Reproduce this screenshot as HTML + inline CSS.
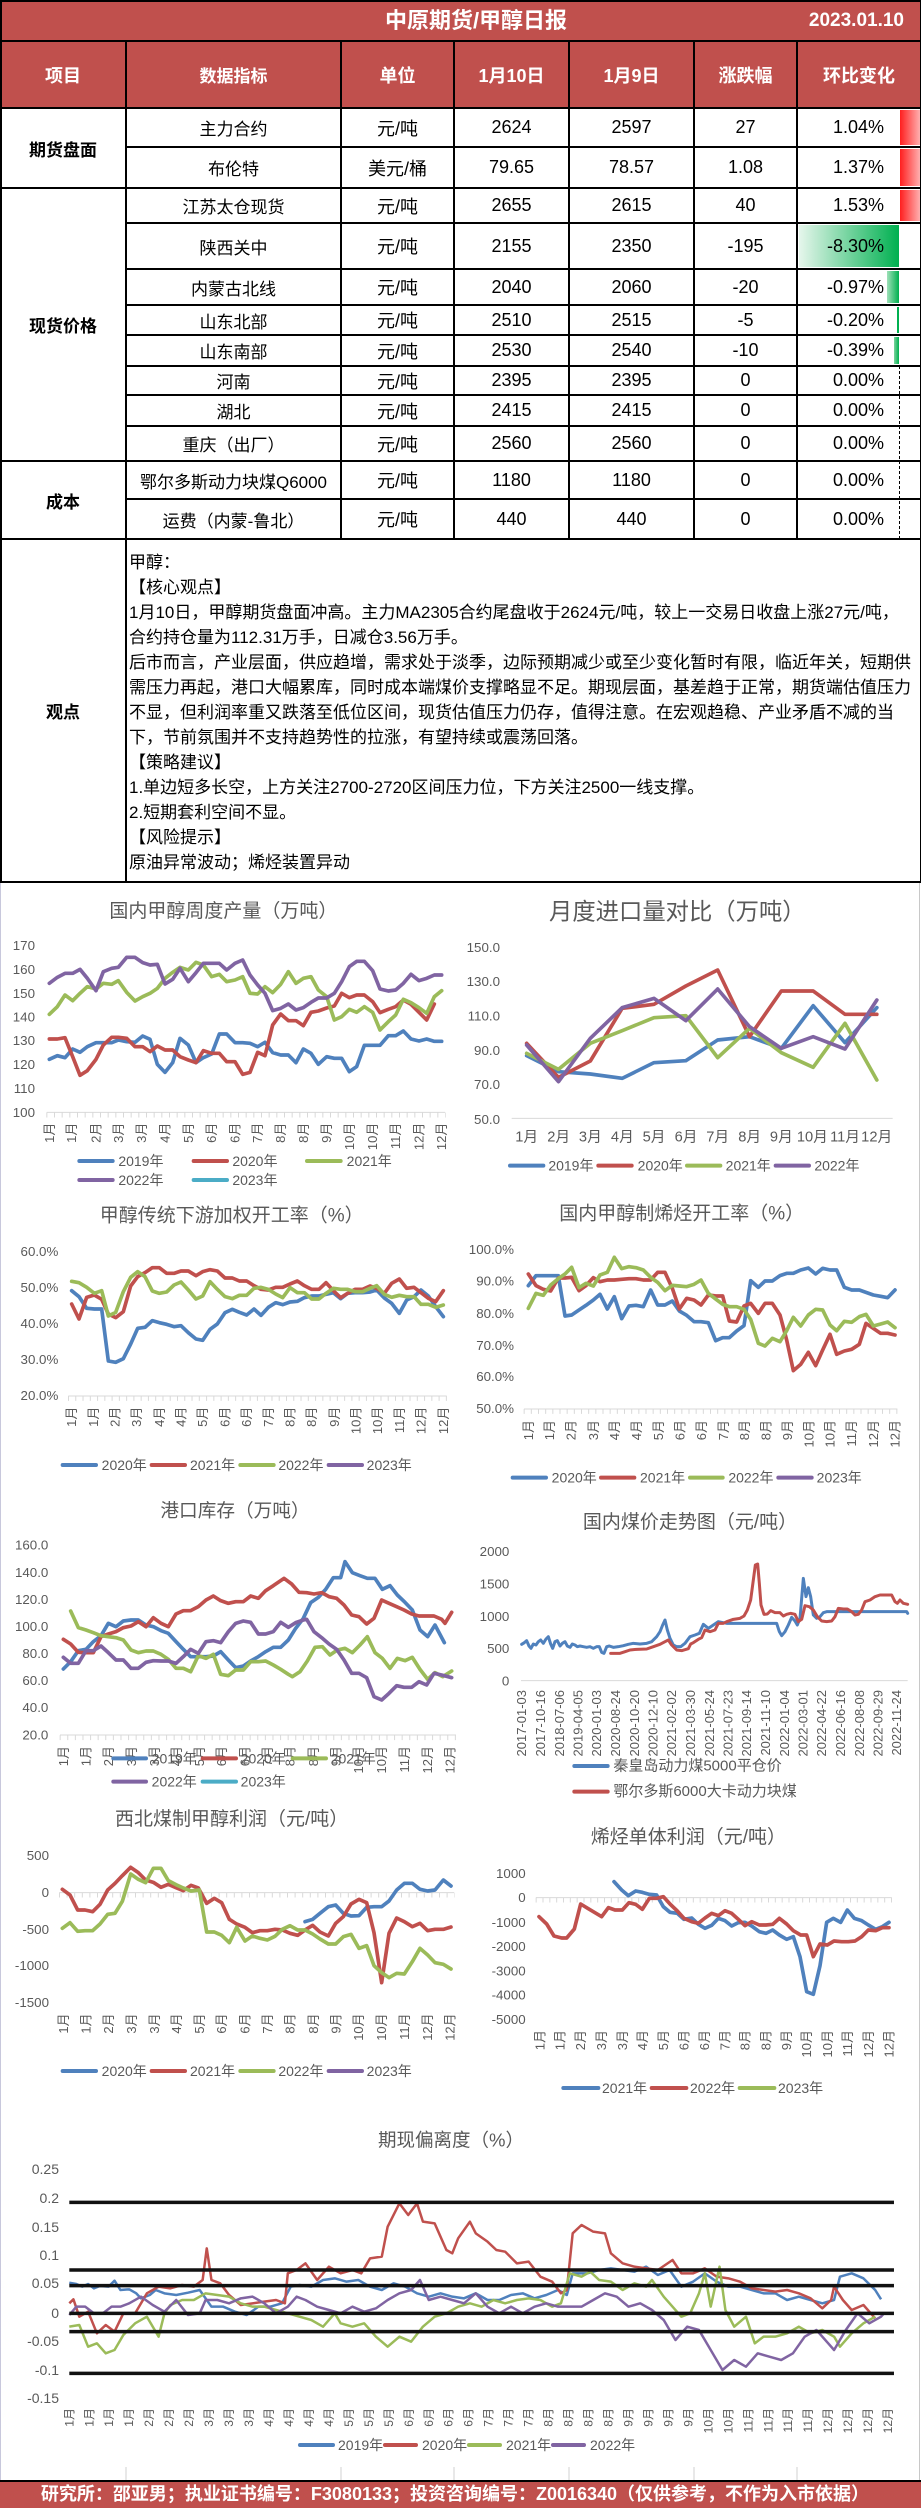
<!DOCTYPE html>
<html><head><meta charset="utf-8">
<style>
body{margin:0;width:921px;height:2508px;position:relative;background:#fff;font-family:"Liberation Sans","Noto Sans CJK SC",sans-serif;overflow:hidden;color:#000}
.a{position:absolute}
.rw{position:absolute;left:0;width:921px}
.rw>div{position:absolute;top:0;bottom:0;display:flex;align-items:center;justify-content:center;white-space:nowrap;font-size:18px}
.c0{left:0;width:126px}.c1{left:126px;width:215px;font-size:17px!important}.c2{left:341px;width:113px}.c3{left:454px;width:115px}.c4{left:569px;width:125px}.c5{left:694px;width:103px}.c6{left:797px;width:87px;justify-content:flex-end!important}.c7{left:797px;width:124px}
.hd>div{color:#fff;font-weight:bold;font-size:18px}
.lab{position:absolute;left:0;width:126px;display:flex;align-items:center;justify-content:center;font-weight:bold;font-size:17px}
.h{position:absolute;height:2px;background:#000}
.v{position:absolute;width:1.5px;background:#000}
.tx{position:absolute;left:129px;font-size:17px;line-height:25px;white-space:nowrap}
svg text{font-family:"Liberation Sans","Noto Sans CJK SC",sans-serif;fill:#595959}
.tt{text-anchor:middle;dominant-baseline:central}
.yl{text-anchor:end;dominant-baseline:central;font-size:40px}
.xl{text-anchor:end;dominant-baseline:central;font-size:39px}
.lg{dominant-baseline:central;font-size:42px}
.s{fill:none;stroke-width:11;stroke-linejoin:round;stroke-linecap:round}
.b{stroke:#4F81BD}.r{stroke:#C0504D}.g{stroke:#9BBB59}.p{stroke:#8064A2}.c{stroke:#4BACC6}
.ax{stroke:#D9D9D9;stroke-width:3}
.tk{stroke:#D9D9D9;stroke-width:15}
.ll{stroke-width:12;stroke-linecap:round}
</style></head><body>

<!-- Title bar -->
<div class="a" style="left:0;top:0;width:921px;height:41px;background:#C0504D"></div>
<div class="a" style="left:0;top:0;width:952px;height:41px;line-height:41px;text-align:center;color:#fff;font-weight:bold;font-size:22px">中原期货/甲醇日报</div>
<div class="a" style="right:17px;top:0;height:41px;line-height:41px;color:#fff;font-weight:bold;font-size:19px">2023.01.10</div>

<!-- Header row -->
<div class="rw hd" style="top:41px;height:67px;background:#C0504D">
<div class="c0">项目</div><div class="c1">数据指标</div><div class="c2">单位</div><div class="c3">1月10日</div><div class="c4">1月9日</div><div class="c5">涨跌幅</div><div class="c7">环比变化</div>
</div>

<!-- data bars -->
<div class="a" style="left:900px;top:110px;width:20px;height:35px;background:linear-gradient(90deg,#ff1f1f,#ffb0b0)"></div>
<div class="a" style="left:900px;top:149px;width:20px;height:37px;background:linear-gradient(90deg,#ff1f1f,#ffb0b0)"></div>
<div class="a" style="left:900px;top:190px;width:20px;height:31px;background:linear-gradient(90deg,#ff1f1f,#ffb0b0)"></div>
<div class="a" style="left:799px;top:225px;width:100px;height:42px;background:linear-gradient(90deg,#e6f6ec,#00B050)"></div>
<div class="a" style="left:887px;top:271px;width:12px;height:32px;background:linear-gradient(90deg,#9fe0b8,#00B050)"></div>
<div class="a" style="left:897px;top:307px;width:2px;height:26px;background:#00B050"></div>
<div class="a" style="left:894px;top:337px;width:5px;height:27px;background:linear-gradient(90deg,#7ad39d,#00B050)"></div>
<div class="a" style="left:899px;top:366px;width:0;height:173px;border-left:1px dashed #000"></div>

<div class="rw" style="top:108px;height:39px"><div class="c1">主力合约</div><div class="c2">元/吨</div><div class="c3">2624</div><div class="c4">2597</div><div class="c5">27</div><div class="c6">1.04%</div></div>
<div class="rw" style="top:147px;height:41px"><div class="c1">布伦特</div><div class="c2">美元/桶</div><div class="c3">79.65</div><div class="c4">78.57</div><div class="c5">1.08</div><div class="c6">1.37%</div></div>
<div class="rw" style="top:188px;height:35px"><div class="c1">江苏太仓现货</div><div class="c2">元/吨</div><div class="c3">2655</div><div class="c4">2615</div><div class="c5">40</div><div class="c6">1.53%</div></div>
<div class="rw" style="top:223px;height:46px"><div class="c1">陕西关中</div><div class="c2">元/吨</div><div class="c3">2155</div><div class="c4">2350</div><div class="c5">-195</div><div class="c6">-8.30%</div></div>
<div class="rw" style="top:269px;height:36px"><div class="c1">内蒙古北线</div><div class="c2">元/吨</div><div class="c3">2040</div><div class="c4">2060</div><div class="c5">-20</div><div class="c6">-0.97%</div></div>
<div class="rw" style="top:305px;height:30px"><div class="c1">山东北部</div><div class="c2">元/吨</div><div class="c3">2510</div><div class="c4">2515</div><div class="c5">-5</div><div class="c6">-0.20%</div></div>
<div class="rw" style="top:335px;height:31px"><div class="c1">山东南部</div><div class="c2">元/吨</div><div class="c3">2530</div><div class="c4">2540</div><div class="c5">-10</div><div class="c6">-0.39%</div></div>
<div class="rw" style="top:366px;height:29px"><div class="c1">河南</div><div class="c2">元/吨</div><div class="c3">2395</div><div class="c4">2395</div><div class="c5">0</div><div class="c6">0.00%</div></div>
<div class="rw" style="top:395px;height:31px"><div class="c1">湖北</div><div class="c2">元/吨</div><div class="c3">2415</div><div class="c4">2415</div><div class="c5">0</div><div class="c6">0.00%</div></div>
<div class="rw" style="top:426px;height:35px"><div class="c1">重庆（出厂）</div><div class="c2">元/吨</div><div class="c3">2560</div><div class="c4">2560</div><div class="c5">0</div><div class="c6">0.00%</div></div>
<div class="rw" style="top:461px;height:38px"><div class="c1">鄂尔多斯动力块煤Q6000</div><div class="c2">元/吨</div><div class="c3">1180</div><div class="c4">1180</div><div class="c5">0</div><div class="c6">0.00%</div></div>
<div class="rw" style="top:499px;height:40px"><div class="c1">运费（内蒙-鲁北）</div><div class="c2">元/吨</div><div class="c3">440</div><div class="c4">440</div><div class="c5">0</div><div class="c6">0.00%</div></div>

<div class="lab" style="top:108px;height:80px">期货盘面</div>
<div class="lab" style="top:188px;height:273px">现货价格</div>
<div class="lab" style="top:461px;height:78px">成本</div>
<div class="lab" style="top:539px;height:343px">观点</div>

<!-- 观点 text -->
<div class="tx" style="top:550px">甲醇：</div>
<div class="tx" style="top:575px">【核心观点】</div>
<div class="tx" style="top:600px">1月10日，甲醇期货盘面冲高。主力MA2305合约尾盘收于2624元/吨，较上一交易日收盘上涨27元/吨，</div>
<div class="tx" style="top:625px">合约持仓量为112.31万手，日减仓3.56万手。</div>
<div class="tx" style="top:650px">后市而言，产业层面，供应趋增，需求处于淡季，边际预期减少或至少变化暂时有限，临近年关，短期供</div>
<div class="tx" style="top:675px">需压力再起，港口大幅累库，同时成本端煤价支撑略显不足。期现层面，基差趋于正常，期货端估值压力</div>
<div class="tx" style="top:700px">不显，但利润率重又跌落至低位区间，现货估值压力仍存，值得注意。在宏观趋稳、产业矛盾不减的当</div>
<div class="tx" style="top:725px">下，节前氛围并不支持趋势性的拉涨，有望持续或震荡回落。</div>
<div class="tx" style="top:750px">【策略建议】</div>
<div class="tx" style="top:775px">1.单边短多长空，上方关注2700-2720区间压力位，下方关注2500一线支撑。</div>
<div class="tx" style="top:800px">2.短期套利空间不显。</div>
<div class="tx" style="top:825px">【风险提示】</div>
<div class="tx" style="top:850px">原油异常波动；烯烃装置异动</div>

<!-- table lines -->
<div class="h" style="left:0;top:0;width:921px"></div>
<div class="h" style="left:0;top:40px;width:921px"></div>
<div class="h" style="left:0;top:107px;width:921px"></div>
<div class="h" style="left:126px;top:146px;width:795px"></div>
<div class="h" style="left:0;top:187px;width:921px"></div>
<div class="h" style="left:126px;top:222px;width:795px"></div>
<div class="h" style="left:126px;top:268px;width:795px"></div>
<div class="h" style="left:126px;top:304px;width:795px"></div>
<div class="h" style="left:126px;top:334px;width:795px"></div>
<div class="h" style="left:126px;top:365px;width:795px"></div>
<div class="h" style="left:126px;top:394px;width:795px"></div>
<div class="h" style="left:126px;top:425px;width:795px"></div>
<div class="h" style="left:0;top:460px;width:921px"></div>
<div class="h" style="left:126px;top:498px;width:795px"></div>
<div class="h" style="left:0;top:538px;width:921px"></div>
<div class="h" style="left:0;top:881px;width:921px"></div>
<div class="v" style="left:0;top:0;height:883px"></div>
<div class="v" style="left:919.5px;top:0;height:883px"></div>
<div class="v" style="left:125px;top:41px;height:841px"></div>
<div class="v" style="left:340px;top:41px;height:498px"></div>
<div class="v" style="left:453px;top:41px;height:498px"></div>
<div class="v" style="left:568px;top:41px;height:498px"></div>
<div class="v" style="left:693px;top:41px;height:498px"></div>
<div class="v" style="left:796px;top:41px;height:498px"></div>

<!-- chart area borders -->
<div class="a" style="left:0;top:883px;width:1px;height:1597px;background:#c8c8dc"></div>
<div class="a" style="left:919px;top:883px;width:1px;height:1597px;background:#c8c8c8"></div>

<svg class="a" style="left:0;top:880px" width="921" height="1220" viewBox="0 0 2763 3660">
<!-- Chart 1 -->
<g>
<text class="tt" x="670" y="95" font-size="57">国内甲醇周度产量（万吨）</text>
<text class="yl" x="105" y="197">170</text><text class="yl" x="105" y="268">160</text><text class="yl" x="105" y="340">150</text><text class="yl" x="105" y="411">140</text><text class="yl" x="105" y="482">130</text><text class="yl" x="105" y="554">120</text><text class="yl" x="105" y="625">110</text><text class="yl" x="105" y="697">100</text>
<line class="ax" x1="140" y1="697" x2="1335" y2="697"/>
<line class="tk" x1="139" y1="705" x2="1337" y2="705" stroke-dasharray="3 20"/>
<text class="xl" transform="translate(148 728) rotate(-90)">1月</text><text class="xl" transform="translate(215 728) rotate(-90)">1月</text><text class="xl" transform="translate(288 728) rotate(-90)">2月</text><text class="xl" transform="translate(355 728) rotate(-90)">3月</text><text class="xl" transform="translate(425 728) rotate(-90)">3月</text><text class="xl" transform="translate(495 728) rotate(-90)">4月</text><text class="xl" transform="translate(565 728) rotate(-90)">5月</text><text class="xl" transform="translate(635 728) rotate(-90)">6月</text><text class="xl" transform="translate(705 728) rotate(-90)">6月</text><text class="xl" transform="translate(773 728) rotate(-90)">7月</text><text class="xl" transform="translate(842 728) rotate(-90)">8月</text><text class="xl" transform="translate(910 728) rotate(-90)">8月</text><text class="xl" transform="translate(980 728) rotate(-90)">9月</text><text class="xl" transform="translate(1048 728) rotate(-90)">10月</text><text class="xl" transform="translate(1118 728) rotate(-90)">10月</text><text class="xl" transform="translate(1187 728) rotate(-90)">11月</text><text class="xl" transform="translate(1257 728) rotate(-90)">12月</text><text class="xl" transform="translate(1325 728) rotate(-90)">12月</text>
<polyline class="s b" points="148,538 172,527 195,533 218,507 240,517 262,500 288,488 310,488 335,488 355,480 380,485 405,487 428,468 450,478 472,553 495,577 518,548 540,475 565,495 588,548 610,533 635,522 658,462 680,462 705,488 728,488 750,490 773,500 795,487 818,518 842,525 865,525 888,548 910,507 933,520 955,553 980,530 1003,535 1025,535 1048,575 1070,560 1093,496 1118,496 1140,496 1165,467 1187,467 1210,453 1233,477 1257,483 1280,477 1303,484 1325,484"/>
<polyline class="s r" points="148,477 172,477 195,473 218,530 240,586 262,572 288,538 310,495 335,472 355,472 380,475 405,500 428,500 450,515 472,498 495,510 518,510 540,530 565,540 588,548 610,512 635,520 658,520 680,545 705,545 728,583 750,577 773,517 795,527 818,435 842,402 865,422 888,422 910,437 933,397 955,393 980,384 1003,378 1025,340 1048,353 1070,345 1093,345 1118,365 1140,398 1165,388 1187,380 1210,360 1233,373 1257,397 1280,420 1303,372"/>
<polyline class="s g" points="148,403 172,380 195,345 218,362 240,340 262,320 288,327 310,310 335,313 355,302 380,337 405,363 428,350 450,340 472,325 495,295 518,277 540,262 565,270 588,247 610,255 635,290 658,283 680,305 705,300 728,290 750,340 773,342 795,320 818,338 842,313 865,275 888,310 910,295 933,290 955,330 980,350 1003,420 1025,410 1048,388 1070,397 1093,380 1118,397 1140,450 1165,425 1187,405 1210,358 1233,368 1257,383 1280,400 1303,350 1325,332"/>
<polyline class="s p" points="148,310 172,292 195,280 218,280 240,268 262,295 288,332 310,275 335,265 355,262 380,232 405,232 428,248 450,255 472,253 495,312 518,298 540,265 565,305 588,278 610,250 635,250 658,250 680,270 705,250 728,240 750,285 773,315 795,340 818,392 842,385 865,372 888,390 910,383 933,367 955,354 980,354 1003,340 1025,305 1048,260 1070,244 1093,244 1118,272 1140,327 1165,333 1187,330 1210,310 1233,283 1257,302 1280,295 1303,285 1325,285"/>
<line class="ll b" x1="238" y1="843" x2="338" y2="843"/><text class="lg" x="355" y="843">2019年</text>
<line class="ll r" x1="581" y1="843" x2="681" y2="843"/><text class="lg" x="697" y="843">2020年</text>
<line class="ll g" x1="921" y1="843" x2="1022" y2="843"/><text class="lg" x="1040" y="843">2021年</text>
<line class="ll p" x1="238" y1="900" x2="338" y2="900"/><text class="lg" x="355" y="900">2022年</text>
<line class="ll c" x1="581" y1="900" x2="681" y2="900"/><text class="lg" x="697" y="900">2023年</text>
</g>

<!-- Chart 2 -->
<g transform="translate(1380 0)">
<text class="tt" x="652" y="95" font-size="70">月度进口量对比（万吨）</text>
<text class="yl" x="120" y="203">150.0</text><text class="yl" x="120" y="305">130.0</text><text class="yl" x="120" y="408">110.0</text><text class="yl" x="120" y="512">90.0</text><text class="yl" x="120" y="613">70.0</text><text class="yl" x="120" y="718">50.0</text>
<line class="ax" x1="155" y1="715" x2="1298" y2="715"/>
<g class="tt" font-size="44"><text x="200" y="772">1月</text><text x="296" y="772">2月</text><text x="391" y="772">3月</text><text x="487" y="772">4月</text><text x="582" y="772">5月</text><text x="678" y="772">6月</text><text x="773" y="772">7月</text><text x="869" y="772">8月</text><text x="964" y="772">9月</text><text x="1057" y="772">10月</text><text x="1155" y="772">11月</text><text x="1250" y="772">12月</text></g>
<polyline class="s b" points="200,527 295.5,575 391,582 486.5,595 582,548 677.5,542 773,480 868.5,470 964,505 1059.5,377 1155,488 1250.5,383"/>
<polyline class="s r" points="200,490 295.5,592 391,543 486.5,385 582,373 677.5,318 773,270 868.5,470 964,333 1059.5,333 1155,403 1250.5,403"/>
<polyline class="s g" points="200,520 295.5,568 391,490 486.5,452 582,413 677.5,407 773,533 868.5,445 964,518 1059.5,562 1155,430 1250.5,600"/>
<polyline class="s p" points="200,495 295.5,605 391,475 486.5,383 582,355 677.5,422 773,327 868.5,440 964,505 1059.5,470 1155,507 1250.5,360"/>
<line class="ll b" x1="150" y1="857" x2="250" y2="857"/><text class="lg" x="265" y="857">2019年</text>
<line class="ll r" x1="415" y1="857" x2="515" y2="857"/><text class="lg" x="533" y="857">2020年</text>
<line class="ll g" x1="681" y1="857" x2="781" y2="857"/><text class="lg" x="797" y="857">2021年</text>
<line class="ll p" x1="947" y1="857" x2="1047" y2="857"/><text class="lg" x="1063" y="857">2022年</text>
</g>

<!-- Chart 3 -->
<g transform="translate(0 960)">
<text class="tt" x="695" y="48" font-size="57">甲醇传统下游加权开工率（%）</text>
<text class="yl" x="175" y="155">60.0%</text><text class="yl" x="175" y="263">50.0%</text><text class="yl" x="175" y="370">40.0%</text><text class="yl" x="175" y="478">30.0%</text><text class="yl" x="175" y="586">20.0%</text>
<line class="ax" x1="205" y1="588" x2="1340" y2="588"/>
<line class="tk" x1="204" y1="595" x2="1342" y2="595" stroke-dasharray="3 18.8"/>
<text class="xl" transform="translate(215 620) rotate(-90)">1月</text><text class="xl" transform="translate(280 620) rotate(-90)">1月</text><text class="xl" transform="translate(345 620) rotate(-90)">2月</text><text class="xl" transform="translate(410 620) rotate(-90)">3月</text><text class="xl" transform="translate(478 620) rotate(-90)">4月</text><text class="xl" transform="translate(543 620) rotate(-90)">4月</text><text class="xl" transform="translate(608 620) rotate(-90)">5月</text><text class="xl" transform="translate(675 620) rotate(-90)">6月</text><text class="xl" transform="translate(740 620) rotate(-90)">6月</text><text class="xl" transform="translate(805 620) rotate(-90)">7月</text><text class="xl" transform="translate(870 620) rotate(-90)">8月</text><text class="xl" transform="translate(935 620) rotate(-90)">8月</text><text class="xl" transform="translate(1003 620) rotate(-90)">9月</text><text class="xl" transform="translate(1068 620) rotate(-90)">10月</text><text class="xl" transform="translate(1133 620) rotate(-90)">10月</text><text class="xl" transform="translate(1198 620) rotate(-90)">11月</text><text class="xl" transform="translate(1263 620) rotate(-90)">12月</text><text class="xl" transform="translate(1330 620) rotate(-90)">12月</text>
<polyline class="s b" points="215,272 237,290 260,325 283,327 305,327 325,483 347,487 370,476 392,432 413,385 435,382 457,362 478,368 500,373 522,380 543,377 565,398 588,417 608,421 630,388 652,372 675,338 697,328 718,337 740,345 762,327 783,346 805,322 827,308 848,314 870,306 892,304 913,293 935,288 957,288 978,283 1000,278 1022,296 1043,280 1065,278 1088,278 1110,276 1130,270 1153,294 1175,310 1198,340 1220,300 1242,290 1263,270 1285,288 1307,320 1330,350"/>
<polyline class="s r" points="215,312 237,357 260,292 283,285 305,298 325,342 347,353 370,335 392,258 413,230 435,218 457,203 478,203 500,220 522,220 543,213 565,213 588,227 608,215 630,209 652,213 675,234 697,234 718,243 740,243 762,257 783,268 805,270 827,262 848,262 870,252 892,243 913,257 935,268 957,268 978,248 1000,272 1022,293 1043,280 1065,268 1088,268 1110,258 1130,265 1153,280 1175,250 1198,237 1220,265 1242,262 1263,278 1285,295 1307,305 1330,272"/>
<polyline class="s g" points="215,244 237,248 260,262 283,280 305,272 325,348 347,337 370,275 392,232 413,215 435,230 457,273 478,280 500,276 522,255 543,246 565,270 588,297 608,288 630,245 652,268 675,290 697,296 718,286 740,286 762,265 783,262 805,268 827,282 848,293 870,263 892,278 913,278 935,297 957,297 978,280 1000,265 1022,268 1043,268 1065,275 1088,275 1110,265 1130,257 1153,283 1175,292 1198,286 1220,290 1242,290 1263,313 1285,313 1307,322 1330,315"/>
<line class="ll b" x1="188" y1="795" x2="288" y2="795"/><text class="lg" x="305" y="795">2020年</text>
<line class="ll r" x1="455" y1="795" x2="555" y2="795"/><text class="lg" x="570" y="795">2021年</text>
<line class="ll g" x1="721" y1="795" x2="821" y2="795"/><text class="lg" x="835" y="795">2022年</text>
<line class="ll p" x1="986" y1="795" x2="1086" y2="795"/><text class="lg" x="1100" y="795">2023年</text>
</g>

<!-- Chart 4 -->
<g transform="translate(1380 960)">
<text class="tt" x="665" y="42" font-size="57">国内甲醇制烯烃开工率（%）</text>
<text class="yl" x="162" y="148">100.0%</text><text class="yl" x="162" y="243">90.0%</text><text class="yl" x="162" y="340">80.0%</text><text class="yl" x="162" y="436">70.0%</text><text class="yl" x="162" y="530">60.0%</text><text class="yl" x="162" y="625">50.0%</text>
<line class="ax" x1="192" y1="627" x2="1312" y2="627"/>
<line class="tk" x1="191" y1="634" x2="1314" y2="634" stroke-dasharray="3 18.5"/>
<text class="xl" transform="translate(205 660) rotate(-90)">1月</text><text class="xl" transform="translate(268 660) rotate(-90)">1月</text><text class="xl" transform="translate(333 660) rotate(-90)">2月</text><text class="xl" transform="translate(400 660) rotate(-90)">3月</text><text class="xl" transform="translate(463 660) rotate(-90)">4月</text><text class="xl" transform="translate(530 660) rotate(-90)">4月</text><text class="xl" transform="translate(595 660) rotate(-90)">5月</text><text class="xl" transform="translate(660 660) rotate(-90)">6月</text><text class="xl" transform="translate(725 660) rotate(-90)">6月</text><text class="xl" transform="translate(790 660) rotate(-90)">7月</text><text class="xl" transform="translate(853 660) rotate(-90)">8月</text><text class="xl" transform="translate(918 660) rotate(-90)">8月</text><text class="xl" transform="translate(983 660) rotate(-90)">9月</text><text class="xl" transform="translate(1047 660) rotate(-90)">10月</text><text class="xl" transform="translate(1110 660) rotate(-90)">10月</text><text class="xl" transform="translate(1175 660) rotate(-90)">11月</text><text class="xl" transform="translate(1240 660) rotate(-90)">12月</text><text class="xl" transform="translate(1305 660) rotate(-90)">12月</text>
<polyline class="s b" points="205,257 228,227 250,227 272,227 295,227 315,348 335,345 357,330 378,316 400,300 420,283 442,327 463,290 485,356 507,318 528,316 550,320 572,270 593,315 615,315 637,303 658,333 680,346 702,365 723,365 745,368 767,422 788,413 808,413 830,393 852,377 872,242 895,262 915,243 937,243 960,227 980,220 1000,220 1022,210 1045,204 1067,222 1088,205 1110,210 1130,210 1153,262 1175,270 1198,270 1218,277 1240,285 1262,289 1283,293 1305,270"/>
<polyline class="s r" points="205,222 228,257 250,268 272,273 295,234 315,234 335,232 357,272 378,257 400,233 420,245 442,240 463,240 485,238 507,236 528,236 550,240 572,240 593,217 615,217 637,265 658,327 680,295 702,300 723,315 745,285 767,288 788,288 808,363 830,366 852,318 872,310 895,340 915,310 937,310 960,345 980,420 1000,512 1022,493 1045,457 1067,497 1088,450 1110,403 1130,463 1153,453 1175,448 1198,433 1218,370 1240,385 1262,400 1283,400 1305,405"/>
<polyline class="s g" points="205,325 228,280 250,286 272,255 295,236 315,222 335,202 357,263 378,250 400,258 420,225 442,217 463,172 485,206 507,200 528,203 550,210 572,232 593,247 615,272 637,256 658,258 680,260 702,253 723,240 745,280 767,297 788,313 808,320 830,320 852,328 872,358 895,430 915,438 937,415 960,425 980,392 1000,352 1022,378 1045,345 1067,328 1088,330 1110,375 1130,392 1153,364 1175,367 1198,350 1218,343 1240,378 1262,372 1283,366 1305,383"/>
<line class="ll b" x1="158" y1="833" x2="258" y2="833"/><text class="lg" x="275" y="833">2020年</text>
<line class="ll r" x1="423" y1="833" x2="523" y2="833"/><text class="lg" x="540" y="833">2021年</text>
<line class="ll g" x1="690" y1="833" x2="788" y2="833"/><text class="lg" x="805" y="833">2022年</text>
<line class="ll p" x1="955" y1="833" x2="1055" y2="833"/><text class="lg" x="1070" y="833">2023年</text>
</g>

<!-- Chart 5 -->
<g transform="translate(0 1830)">
<text class="tt" x="705" y="62" font-size="56">港口库存（万吨）</text>
<text class="yl" x="145" y="165">160.0</text><text class="yl" x="145" y="247">140.0</text><text class="yl" x="145" y="328">120.0</text><text class="yl" x="145" y="410">100.0</text><text class="yl" x="145" y="490">80.0</text><text class="yl" x="145" y="572">60.0</text><text class="yl" x="145" y="653">40.0</text><text class="yl" x="145" y="735">20.0</text>
<line class="ax" x1="180" y1="735" x2="1368" y2="735"/>
<line class="tk" x1="179" y1="743" x2="1370" y2="743" stroke-dasharray="3 19.8"/>
<text class="xl" transform="translate(190 768) rotate(-90)">1月</text><text class="xl" transform="translate(258 768) rotate(-90)">1月</text><text class="xl" transform="translate(325 768) rotate(-90)">2月</text><text class="xl" transform="translate(395 768) rotate(-90)">3月</text><text class="xl" transform="translate(463 768) rotate(-90)">3月</text><text class="xl" transform="translate(530 768) rotate(-90)">4月</text><text class="xl" transform="translate(598 768) rotate(-90)">5月</text><text class="xl" transform="translate(665 768) rotate(-90)">6月</text><text class="xl" transform="translate(735 768) rotate(-90)">6月</text><text class="xl" transform="translate(802 768) rotate(-90)">7月</text><text class="xl" transform="translate(870 768) rotate(-90)">8月</text><text class="xl" transform="translate(940 768) rotate(-90)">8月</text><text class="xl" transform="translate(1008 768) rotate(-90)">9月</text><text class="xl" transform="translate(1075 768) rotate(-90)">10月</text><text class="xl" transform="translate(1145 768) rotate(-90)">10月</text><text class="xl" transform="translate(1213 768) rotate(-90)">11月</text><text class="xl" transform="translate(1283 768) rotate(-90)">12月</text><text class="xl" transform="translate(1350 768) rotate(-90)">12月</text>
<polyline class="s b" points="190,537 212,515 235,482 258,478 280,455 303,437 325,400 348,410 370,393 393,390 415,390 438,405 460,410 483,422 505,430 528,455 550,478 572,500 595,500 618,500 640,498 662,485 685,510 707,533 730,528 752,513 775,500 797,485 820,472 842,472 865,450 887,415 910,385 932,338 955,322 977,298 1000,263 1022,263 1035,215 1057,248 1080,257 1102,265 1125,265 1147,298 1170,287 1192,315 1215,337 1237,360 1260,420 1283,440 1305,405 1333,458"/>
<polyline class="s r" points="190,448 212,462 235,487 258,488 280,488 303,440 325,432 348,425 370,413 393,408 415,395 438,410 460,383 483,400 505,410 528,372 550,362 572,362 595,350 618,330 640,318 662,332 685,340 707,335 730,335 752,318 775,325 797,302 820,287 852,265 875,282 897,307 920,308 942,312 965,308 987,320 1010,325 1032,345 1055,375 1077,380 1100,402 1122,385 1145,330 1167,340 1190,350 1212,360 1235,372 1257,378 1280,378 1302,378 1325,388 1335,400 1355,367"/>
<polyline class="s g" points="212,363 235,413 258,420 280,428 303,437 325,440 348,443 370,450 393,480 415,488 438,483 460,483 483,493 505,508 528,535 550,535 572,545 595,497 618,505 640,493 662,553 685,557 707,540 730,540 752,515 775,515 797,513 820,525 842,538 865,553 877,560 900,545 922,513 945,472 967,470 990,495 1012,480 1035,475 1057,488 1080,465 1102,440 1125,488 1147,505 1170,535 1192,505 1215,512 1237,502 1260,538 1283,568 1305,548 1328,560 1355,543"/>
<polyline class="s p" points="190,502 212,520 235,520 258,482 280,482 303,468 325,488 348,510 370,510 393,535 415,535 438,517 460,512 483,513 505,513 528,520 550,500 572,478 595,490 618,455 640,452 662,458 685,425 707,400 730,393 752,397 775,432 797,432 820,425 842,397 865,412 887,398 910,390 920,388 942,425 965,443 987,462 1010,478 1032,510 1055,550 1077,550 1100,563 1122,620 1145,630 1167,610 1190,587 1212,592 1235,592 1257,575 1280,585 1302,550 1325,555 1355,563"/>
<line class="ll b" x1="340" y1="805" x2="438" y2="805"/><text class="lg" x="455" y="805">2019年</text>
<line class="ll r" x1="608" y1="805" x2="708" y2="805"/><text class="lg" x="722" y="805">2020年</text>
<line class="ll g" x1="878" y1="805" x2="978" y2="805"/><text class="lg" x="992" y="805">2021年</text>
<line class="ll p" x1="340" y1="875" x2="438" y2="875"/><text class="lg" x="455" y="875">2022年</text>
<line class="ll c" x1="608" y1="875" x2="708" y2="875"/><text class="lg" x="722" y="875">2023年</text>
</g>

<!-- Chart 6 -->
<g transform="translate(1380 1830)">
<text class="tt" x="690" y="97" font-size="57">国内煤价走势图（元/吨）</text>
<text class="yl" x="148" y="185">2000</text><text class="yl" x="148" y="282">1500</text><text class="yl" x="148" y="380">1000</text><text class="yl" x="148" y="476">500</text><text class="yl" x="148" y="573">0</text>
<line class="ax" x1="183" y1="572" x2="1343" y2="572"/>
<text class="xl" transform="translate(185 600) rotate(-90)">2017-01-03</text><text class="xl" transform="translate(241 600) rotate(-90)">2017-10-16</text><text class="xl" transform="translate(298 600) rotate(-90)">2018-07-06</text><text class="xl" transform="translate(354 600) rotate(-90)">2019-04-05</text><text class="xl" transform="translate(410 600) rotate(-90)">2020-01-03</text><text class="xl" transform="translate(466 600) rotate(-90)">2020-08-24</text><text class="xl" transform="translate(523 600) rotate(-90)">2020-10-20</text><text class="xl" transform="translate(579 600) rotate(-90)">2020-12-10</text><text class="xl" transform="translate(635 600) rotate(-90)">2021-02-02</text><text class="xl" transform="translate(691 600) rotate(-90)">2021-03-30</text><text class="xl" transform="translate(748 600) rotate(-90)">2021-05-24</text><text class="xl" transform="translate(804 600) rotate(-90)">2021-07-23</text><text class="xl" transform="translate(860 600) rotate(-90)">2021-09-14</text><text class="xl" transform="translate(916 600) rotate(-90)">2021-11-10</text><text class="xl" transform="translate(973 600) rotate(-90)">2022-01-04</text><text class="xl" transform="translate(1029 600) rotate(-90)">2022-03-01</text><text class="xl" transform="translate(1085 600) rotate(-90)">2022-04-22</text><text class="xl" transform="translate(1141 600) rotate(-90)">2022-06-16</text><text class="xl" transform="translate(1198 600) rotate(-90)">2022-08-08</text><text class="xl" transform="translate(1254 600) rotate(-90)">2022-09-29</text><text class="xl" transform="translate(1310 600) rotate(-90)">2022-11-24</text>
<polyline class="s b" style="stroke-width:9" points="185,463 193,458 200,452 207,468 213,475 220,462 228,465 235,455 242,450 250,460 258,447 265,440 272,462 278,475 285,455 292,452 300,468 307,460 315,455 322,468 330,472 337,462 345,465 352,470 360,468 370,470 380,472 390,470 400,475 410,470 418,470 425,487 432,490 440,470 448,468 460,472 475,470 490,467 505,463 520,460 540,462 560,460 575,455 590,440 600,425 608,405 615,390 622,420 630,445 640,465 650,470 662,470 675,460 690,440 705,435 718,430 730,403 745,415 760,405 775,395 790,398 800,400 950,400 958,425 965,437 975,425 985,405 995,382 1005,393 1012,405 1020,385 1030,265 1038,320 1045,293 1052,320 1060,375 1070,385 1080,380 1090,368 1100,365 1340,365 1343,370"/>
<polyline class="s r" style="stroke-width:9" points="452,490 480,490 495,485 510,480 530,478 560,477 580,470 600,463 615,455 625,450 635,465 650,480 665,482 685,476 692,462 700,458 715,448 725,443 735,420 750,425 765,420 775,400 790,400 800,395 820,388 840,385 852,378 862,360 872,330 880,270 886,225 893,222 898,280 903,345 912,373 922,372 932,362 945,368 960,368 970,378 980,373 992,370 1005,373 1015,395 1025,388 1035,347 1048,350 1060,360 1072,380 1085,393 1100,395 1115,393 1125,380 1135,355 1150,357 1162,357 1175,365 1185,375 1195,373 1205,360 1215,335 1230,330 1245,320 1260,315 1295,315 1305,335 1312,340 1320,330 1330,340 1343,343"/>
<line class="ll b" x1="343" y1="828" x2="443" y2="828"/><text class="lg" x="460" y="828" style="font-size:45px">秦皇岛动力煤5000平仓价</text>
<line class="ll r" x1="343" y1="905" x2="443" y2="905"/><text class="lg" x="460" y="905" style="font-size:45px">鄂尔多斯6000大卡动力块煤</text>
</g>

<!-- Chart 7 -->
<g transform="translate(0 2700)">
<text class="tt" x="695" y="118" font-size="57">西北煤制甲醇利润（元/吨）</text>
<text class="yl" x="147" y="227">500</text><text class="yl" x="147" y="338">0</text><text class="yl" x="147" y="449">-500</text><text class="yl" x="147" y="557">-1000</text><text class="yl" x="147" y="667">-1500</text>
<line class="ax" x1="178" y1="338" x2="1362" y2="338"/>
<line class="tk" x1="177" y1="345" x2="1364" y2="345" stroke-dasharray="3 19.8"/>
<text class="xl" transform="translate(190 700) rotate(-90)">1月</text><text class="xl" transform="translate(258 700) rotate(-90)">1月</text><text class="xl" transform="translate(325 700) rotate(-90)">2月</text><text class="xl" transform="translate(395 700) rotate(-90)">3月</text><text class="xl" transform="translate(463 700) rotate(-90)">3月</text><text class="xl" transform="translate(530 700) rotate(-90)">4月</text><text class="xl" transform="translate(598 700) rotate(-90)">5月</text><text class="xl" transform="translate(665 700) rotate(-90)">6月</text><text class="xl" transform="translate(735 700) rotate(-90)">6月</text><text class="xl" transform="translate(802 700) rotate(-90)">7月</text><text class="xl" transform="translate(870 700) rotate(-90)">8月</text><text class="xl" transform="translate(940 700) rotate(-90)">8月</text><text class="xl" transform="translate(1008 700) rotate(-90)">9月</text><text class="xl" transform="translate(1075 700) rotate(-90)">10月</text><text class="xl" transform="translate(1145 700) rotate(-90)">10月</text><text class="xl" transform="translate(1213 700) rotate(-90)">11月</text><text class="xl" transform="translate(1283 700) rotate(-90)">12月</text><text class="xl" transform="translate(1350 700) rotate(-90)">12月</text>
<polyline class="s b" points="915,425 938,418 960,400 985,380 1007,375 1030,400 1053,408 1077,407 1100,382 1122,380 1145,380 1167,363 1190,330 1213,310 1237,310 1260,328 1283,333 1305,330 1330,300 1353,318"/>
<polyline class="s r" points="187,328 210,345 233,390 255,390 278,395 300,373 323,330 345,310 367,287 392,262 415,278 437,300 460,307 483,322 505,313 528,323 550,332 573,316 595,324 620,370 643,355 665,368 688,418 710,432 735,442 757,458 780,452 802,452 825,448 847,450 870,460 893,466 915,450 938,436 960,456 985,468 1007,430 1030,410 1053,372 1077,358 1100,368 1122,458 1145,608 1167,460 1190,414 1213,425 1237,440 1260,430 1283,452 1305,448 1330,448 1353,441"/>
<polyline class="s g" points="187,445 210,428 233,454 255,452 278,452 300,432 323,403 345,400 367,364 392,282 415,298 437,308 460,265 483,265 505,302 528,314 550,324 573,333 598,330 620,456 643,456 665,466 688,488 710,442 735,483 757,468 780,475 802,480 825,469 847,448 870,437 893,450 915,450 938,462 960,477 985,492 1007,492 1030,470 1053,463 1077,505 1100,497 1122,557 1145,578 1167,593 1190,580 1213,582 1237,545 1260,505 1283,525 1305,548 1330,553 1353,567"/>
<line class="ll b" x1="188" y1="873" x2="288" y2="873"/><text class="lg" x="305" y="873">2020年</text>
<line class="ll r" x1="455" y1="873" x2="555" y2="873"/><text class="lg" x="570" y="873">2021年</text>
<line class="ll g" x1="721" y1="873" x2="821" y2="873"/><text class="lg" x="835" y="873">2022年</text>
<line class="ll p" x1="986" y1="873" x2="1086" y2="873"/><text class="lg" x="1100" y="873">2023年</text>
</g>

<!-- Chart 8 -->
<g transform="translate(1380 2700)">
<text class="tt" x="685" y="172" font-size="57">烯烃单体利润（元/吨）</text>
<text class="yl" x="197" y="281">1000</text><text class="yl" x="197" y="353">0</text><text class="yl" x="197" y="427">-1000</text><text class="yl" x="197" y="500">-2000</text><text class="yl" x="197" y="573">-3000</text><text class="yl" x="197" y="645">-4000</text><text class="yl" x="197" y="718">-5000</text>
<line class="ax" x1="228" y1="353" x2="1295" y2="353"/>
<line class="tk" x1="227" y1="360" x2="1297" y2="360" stroke-dasharray="3 17.5"/>
<text class="xl" transform="translate(240 750) rotate(-90)">1月</text><text class="xl" transform="translate(300 750) rotate(-90)">1月</text><text class="xl" transform="translate(362 750) rotate(-90)">2月</text><text class="xl" transform="translate(425 750) rotate(-90)">3月</text><text class="xl" transform="translate(487 750) rotate(-90)">3月</text><text class="xl" transform="translate(547 750) rotate(-90)">4月</text><text class="xl" transform="translate(610 750) rotate(-90)">5月</text><text class="xl" transform="translate(672 750) rotate(-90)">6月</text><text class="xl" transform="translate(733 750) rotate(-90)">6月</text><text class="xl" transform="translate(795 750) rotate(-90)">7月</text><text class="xl" transform="translate(855 750) rotate(-90)">8月</text><text class="xl" transform="translate(918 750) rotate(-90)">8月</text><text class="xl" transform="translate(980 750) rotate(-90)">9月</text><text class="xl" transform="translate(1040 750) rotate(-90)">10月</text><text class="xl" transform="translate(1102 750) rotate(-90)">10月</text><text class="xl" transform="translate(1163 750) rotate(-90)">11月</text><text class="xl" transform="translate(1225 750) rotate(-90)">12月</text><text class="xl" transform="translate(1287 750) rotate(-90)">12月</text>
<polyline class="s b" points="462,305 485,330 505,347 527,333 547,337 568,343 590,345 610,380 630,397 652,400 672,418 695,414 715,433 735,445 755,436 775,415 795,422 815,438 835,428 855,427 875,438 898,455 918,460 938,450 958,465 980,478 1000,470 1020,530 1040,635 1060,643 1080,557 1100,427 1120,415 1142,427 1162,390 1183,415 1205,422 1225,435 1247,448 1267,440 1287,427"/>
<polyline class="s r" points="237,410 260,432 282,468 305,474 320,474 343,447 362,372 383,385 405,398 425,410 445,383 465,390 487,390 507,368 527,373 547,388 568,355 590,355 610,350 630,372 652,393 672,415 695,425 715,430 735,414 755,400 775,407 795,392 815,400 835,418 855,437 875,425 898,435 918,435 938,433 958,415 980,432 1000,452 1022,465 1040,465 1060,530 1080,492 1102,495 1122,483 1145,485 1165,485 1185,483 1205,470 1225,450 1247,452 1267,443 1287,443"/>
<line class="ll b" x1="310" y1="924" x2="415" y2="924"/><text class="lg" x="426" y="924">2021年</text>
<line class="ll r" x1="575" y1="924" x2="679" y2="924"/><text class="lg" x="690" y="924">2022年</text>
<line class="ll g" x1="839" y1="924" x2="943" y2="924"/><text class="lg" x="954" y="924">2023年</text>
</g>
</svg>

<!-- 期现偏离度 lines -->
<svg class="a" style="left:0;top:2060px" width="921" height="448" viewBox="0 0 1568 1344" preserveAspectRatio="none">
<g fill="none" stroke-linejoin="round">
<polyline vector-effect="non-scaling-stroke" stroke="#4F81BD" stroke-width="2.5" points="118,668 130,672 140,680 150,672 160,685 170,678 185,680 195,662 205,690 220,688 232,700 240,715 255,705 265,690 280,700 300,705 320,698 340,690 360,740 380,740 400,755 420,765 440,740 460,740 480,730 495,680 510,675 530,680 550,660 570,655 590,665 610,660 630,680 650,690 670,670 690,680 710,700 730,710 750,700 770,710 790,715 810,700 830,720 850,720 870,705 890,700 910,715 930,705 950,690 965,705 975,640 1000,640 1020,630 1040,625 1060,630 1080,635 1100,620 1120,645 1140,630 1160,680 1180,665 1200,640 1220,665 1240,680 1260,680 1280,690 1300,700 1320,700 1340,720 1360,710 1380,720 1400,730 1420,720 1430,650 1450,640 1470,655 1490,690 1500,718"/>
<polyline vector-effect="non-scaling-stroke" stroke="#C0504D" stroke-width="2.5" points="118,730 125,718 135,770 150,755 165,820 180,795 195,815 210,760 230,760 250,700 270,680 290,685 310,675 330,680 345,660 352,565 360,660 375,670 390,705 410,735 430,730 450,725 470,720 485,730 490,640 505,630 520,610 540,660 560,620 580,640 600,630 615,640 630,595 650,590 660,500 680,430 695,465 710,430 720,485 740,490 760,570 770,580 780,535 800,485 810,520 830,545 845,570 860,575 880,610 900,605 920,650 940,665 955,700 965,690 975,520 990,495 1010,515 1030,520 1040,580 1060,610 1080,620 1100,625 1120,630 1145,600 1160,640 1180,640 1200,625 1220,650 1240,655 1260,665 1280,685 1300,690 1320,695 1340,690 1360,700 1380,715 1400,745 1415,720 1420,680 1435,720 1450,750 1470,735 1490,775"/>
<polyline vector-effect="non-scaling-stroke" stroke="#9BBB59" stroke-width="2.5" points="118,800 135,795 150,860 165,850 180,880 195,870 210,825 230,790 250,770 270,830 280,760 290,735 310,720 330,720 350,700 370,705 390,710 410,730 430,740 450,740 470,750 490,760 510,770 530,780 550,800 570,760 580,790 600,800 620,790 640,830 660,860 680,830 700,845 720,800 740,770 760,760 780,740 800,730 820,740 840,720 860,730 880,720 900,715 920,720 940,740 955,730 970,640 990,650 1005,635 1020,660 1040,665 1060,690 1080,670 1100,680 1110,660 1130,710 1145,740 1160,770 1175,760 1190,700 1200,640 1210,740 1225,620 1235,750 1250,800 1270,770 1285,850 1300,830 1320,830 1340,820 1360,800 1380,820 1400,810 1420,830 1430,860 1450,820 1470,790 1490,770"/>
<polyline vector-effect="non-scaling-stroke" stroke="#8064A2" stroke-width="2.5" points="118,765 130,740 145,740 160,760 175,760 190,740 205,740 220,730 240,710 260,735 280,755 300,720 320,765 340,760 350,720 370,720 390,730 410,715 430,710 450,730 470,760 490,740 505,710 520,720 540,740 560,750 580,760 600,740 620,755 640,745 660,720 680,700 700,690 715,660 730,720 750,710 770,720 790,730 810,700 830,740 850,760 870,740 890,760 910,740 930,730 950,740 970,740 990,740 1010,720 1030,700 1050,710 1070,740 1090,730 1110,750 1130,780 1150,840 1170,800 1190,810 1210,870 1230,930 1250,900 1270,920 1290,880 1310,890 1330,900 1350,880 1370,830 1390,810 1410,850 1420,870 1440,810 1460,760 1480,790 1500,770 1505,760"/>
<g stroke="#111" stroke-width="3.5">
<line vector-effect="non-scaling-stroke" x1="118" y1="427" x2="1522" y2="427"/>
<line vector-effect="non-scaling-stroke" x1="118" y1="630" x2="1522" y2="630"/>
<line vector-effect="non-scaling-stroke" x1="118" y1="677" x2="1522" y2="677"/>
<line vector-effect="non-scaling-stroke" x1="118" y1="760" x2="1522" y2="760"/>
<line vector-effect="non-scaling-stroke" x1="118" y1="815" x2="1522" y2="815"/>
<line vector-effect="non-scaling-stroke" x1="118" y1="940" x2="1522" y2="940"/>
</g>
</g>
</svg>

<!-- 期现偏离度 text -->
<svg class="a" style="left:0;top:2060px" width="921" height="448" viewBox="0 0 921 448">
<text class="tt" x="451" y="80" font-size="18.5">期现偏离度（%）</text>
<g style="text-anchor:end;dominant-baseline:central;font-size:14px">
<text x="59" y="109">0.25</text><text x="59" y="138">0.2</text><text x="59" y="167">0.15</text><text x="59" y="195">0.1</text><text x="59" y="223">0.05</text><text x="59" y="253">0</text><text x="59" y="281">-0.05</text><text x="59" y="310">-0.1</text><text x="59" y="338">-0.15</text>
</g>
<g style="text-anchor:end;dominant-baseline:central;font-size:12px">
<text transform="translate(69.3 348) rotate(-90)">1月</text><text transform="translate(89.3 348) rotate(-90)">1月</text><text transform="translate(109.2 348) rotate(-90)">1月</text><text transform="translate(129.2 348) rotate(-90)">1月</text><text transform="translate(149.2 348) rotate(-90)">2月</text><text transform="translate(169.2 348) rotate(-90)">2月</text><text transform="translate(189.1 348) rotate(-90)">2月</text><text transform="translate(209.1 348) rotate(-90)">3月</text><text transform="translate(229.1 348) rotate(-90)">3月</text><text transform="translate(249 348) rotate(-90)">3月</text><text transform="translate(269 348) rotate(-90)">4月</text><text transform="translate(289 348) rotate(-90)">4月</text><text transform="translate(308.9 348) rotate(-90)">4月</text><text transform="translate(328.9 348) rotate(-90)">4月</text><text transform="translate(348.9 348) rotate(-90)">5月</text><text transform="translate(368.9 348) rotate(-90)">5月</text><text transform="translate(388.8 348) rotate(-90)">5月</text><text transform="translate(408.8 348) rotate(-90)">6月</text><text transform="translate(428.8 348) rotate(-90)">6月</text><text transform="translate(448.7 348) rotate(-90)">6月</text><text transform="translate(468.7 348) rotate(-90)">6月</text><text transform="translate(488.7 348) rotate(-90)">7月</text><text transform="translate(508.6 348) rotate(-90)">7月</text><text transform="translate(528.6 348) rotate(-90)">7月</text><text transform="translate(548.6 348) rotate(-90)">8月</text><text transform="translate(568.6 348) rotate(-90)">8月</text><text transform="translate(588.5 348) rotate(-90)">8月</text><text transform="translate(608.5 348) rotate(-90)">8月</text><text transform="translate(628.5 348) rotate(-90)">9月</text><text transform="translate(648.4 348) rotate(-90)">9月</text><text transform="translate(668.4 348) rotate(-90)">9月</text><text transform="translate(688.4 348) rotate(-90)">9月</text><text transform="translate(708.3 348) rotate(-90)">10月</text><text transform="translate(728.3 348) rotate(-90)">10月</text><text transform="translate(748.3 348) rotate(-90)">11月</text><text transform="translate(768.3 348) rotate(-90)">11月</text><text transform="translate(788.2 348) rotate(-90)">11月</text><text transform="translate(808.2 348) rotate(-90)">11月</text><text transform="translate(828.2 348) rotate(-90)">12月</text><text transform="translate(848.1 348) rotate(-90)">12月</text><text transform="translate(868.1 348) rotate(-90)">12月</text><text transform="translate(888.1 348) rotate(-90)">12月</text>
</g>
<g stroke-width="4" stroke-linecap="round">
<line x1="300" y1="385" x2="333" y2="385" stroke="#4F81BD"/><line x1="385" y1="385" x2="416" y2="385" stroke="#C0504D"/><line x1="469" y1="385" x2="500" y2="385" stroke="#9BBB59"/><line x1="553" y1="385" x2="584" y2="385" stroke="#8064A2"/>
</g>
<g style="dominant-baseline:central;font-size:14px">
<text x="338" y="385">2019年</text><text x="422" y="385">2020年</text><text x="506" y="385">2021年</text><text x="590" y="385">2022年</text>
</g>
<g stroke="#d0d0d0" stroke-width="1"><line x1="126" y1="407" x2="126" y2="420"/><line x1="341" y1="407" x2="341" y2="420"/><line x1="454" y1="407" x2="454" y2="420"/><line x1="569" y1="407" x2="569" y2="420"/><line x1="694" y1="407" x2="694" y2="420"/><line x1="797" y1="407" x2="797" y2="420"/></g>
</svg>

<!-- Footer -->
<div class="a" style="left:0;top:2480px;width:921px;height:28px;background:#C0504D;border-top:2px solid #000;box-sizing:border-box"></div>
<div class="a" style="left:0;top:2481px;width:910px;height:27px;line-height:27px;text-align:center;color:#fff;font-weight:bold;font-size:18px;white-space:nowrap">研究所：邵亚男；执业证书编号：F3080133；投资咨询编号：Z0016340（仅供参考，不作为入市依据）</div>
</body></html>
